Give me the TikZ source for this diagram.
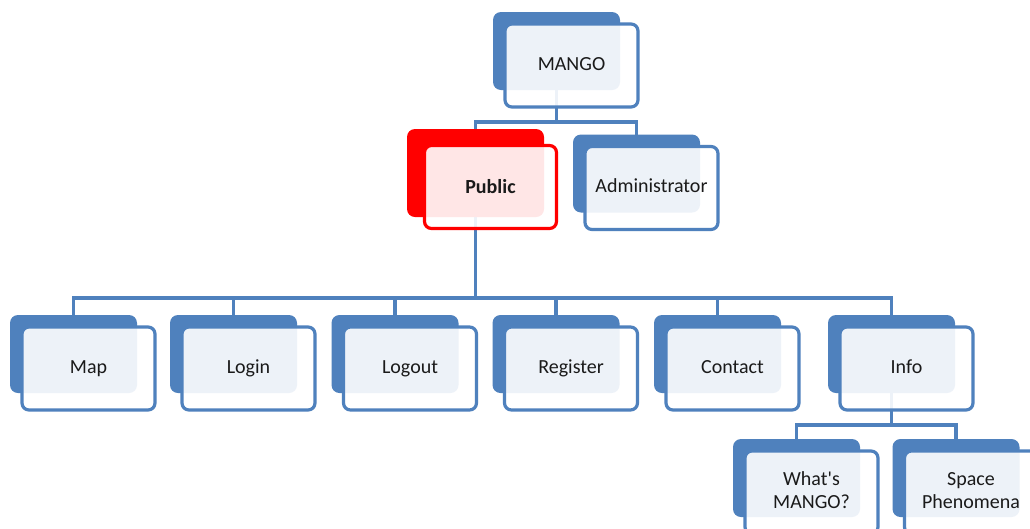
\documentclass[tikz,border=0pt]{standalone}
\usepackage{fontspec}
\setmainfont{Carlito}
\definecolor{obrand}{HTML}{4F81BD}
\definecolor{ored}{HTML}{FF0000}
\definecolor{otext}{HTML}{1A1A1A}
\pgfdeclarelayer{bg}
\pgfsetlayers{bg,main}
\tikzset{
  backbox/.style={fill=obrand, rounded corners=8pt, inner sep=0pt,
    minimum width=127pt, minimum height=78pt},
  frontbox/.style={draw=obrand, line width=3.2pt, rounded corners=7pt,
    fill=white, fill opacity=0.9, text opacity=1, inner sep=0pt,
    minimum width=133pt, minimum height=83pt, align=center, text=otext,
    font=\fontsize{20}{22.5}\selectfont},
  conn/.style={draw=obrand, line width=3.2pt},
}
% #1 name, #2 x, #3 y (centre of the back panel), #4 label
\newcommand\orgunit[4]{%
  \node[backbox] (#1B) at (#2,#3) {};
  \node[frontbox] (#1) at (#2+15,#3+14.5) {\raisebox{1.5pt}{\begin{tabular}{@{}c@{}}#4\end{tabular}}};
}
\begin{document}
\begin{tikzpicture}[x=1pt,y=-1pt]
  \useasboundingbox (0,0) rectangle (1030,528);
  \clip (0,0) rectangle (1030,528);

  \orgunit{mango}{556.5}{51}{MANGO}
  % highlighted branch
  \node[backbox, fill=ored, minimum width=137pt, minimum height=88pt] (publicB) at (475.5,173) {};
  \node[frontbox, draw=ored, minimum width=132pt, minimum height=83pt,
        font=\fontsize{20}{22.5}\selectfont\bfseries] (public) at (490.5,187) {\raisebox{1.5pt}{Public}};
  \orgunit{admin}{636.5}{173.5}{Administrator}

  \orgunit{map}{73.5}{354}{Map}
  \orgunit{login}{233.5}{354}{Login}
  \orgunit{logout}{395}{354}{Logout}
  \orgunit{register}{556}{354}{Register}
  \orgunit{contact}{717.5}{354}{Contact}
  \orgunit{info}{891.5}{354}{Info}

  \orgunit{whats}{796.5}{478}{What\textquotesingle s\\MANGO?}
  \orgunit{space}{956}{478}{Space\\Phenomena}

  \coordinate (bus1) at (0,122);
  \coordinate (bus2) at (0,298);
  \coordinate (bus3) at (0,425);

  \begin{pgfonlayer}{bg}
    \fill[white] (0,0) rectangle (1030,528);
    \draw[conn] (mangoB.center) -- (mangoB.center |- bus1) -| (publicB.center);
    \draw[conn] (mangoB.center |- bus1) -| (adminB.center);
    \draw[conn] (publicB.center) -- (publicB.center |- bus2);
    \foreach \n in {map,login,logout,register,contact,info}
      \draw[conn] (publicB.center |- bus2) -| (\n B.center);
    \draw[conn] (infoB.center) -- (infoB.center |- bus3) -| (whatsB.center);
    \draw[conn] (infoB.center |- bus3) -| (spaceB.center);
  \end{pgfonlayer}
\end{tikzpicture}
\end{document}
